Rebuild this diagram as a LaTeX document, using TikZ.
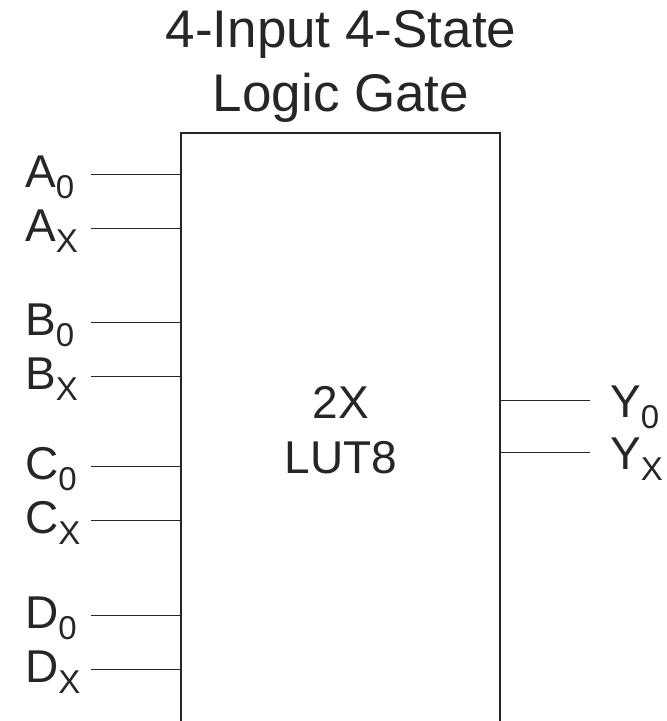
\documentclass[tikz,border=0pt]{standalone}
\usepackage{fontspec}
\setmainfont{Liberation Sans}
\usepackage{tikz}

% pin label with a lowered index, e.g. A_0
\newcommand{\pinname}[2]{#1\raisebox{-11pt}{\fontsize{33}{33}\selectfont #2}}

\tikzset{
  gate/.style={line width=2pt,black!85},
  lead/.style={line width=1pt,black!85},
  pinlabel/.style={inner sep=0pt,anchor=base west,font=\fontsize{46}{55}\selectfont,text=black!85},
}

\begin{document}
\begin{tikzpicture}[x=1pt,y=-1pt]
  \useasboundingbox (0,0) rectangle (667,721);

  % --- Title ---
  \node[inner sep=0pt,anchor=north,align=center,text=black!85,
        font=\fontsize{53}{64}\selectfont] (title) at (341,10)
    {4-Input 4-State\\Logic Gate};

  % --- Gate body (open at the bottom) ---
  \draw[gate] (181,721) -- (181,133) -- (500,133) -- (500,721);
  \node[inner sep=0pt,anchor=base,font=\fontsize{46}{55}\selectfont,text=black!85]
    (lutline1) at (341,418) {2X};
  \node[inner sep=0pt,anchor=base,font=\fontsize{46}{55}\selectfont,text=black!85]
    (lutline2) at (341,473) {LUT8};

  % --- Inputs ---
  \foreach \p/\s/\y in {A/0/174, A/X/228, B/0/322, B/X/376,
                        C/0/466, C/X/520, D/0/615, D/X/669} {
    \node[pinlabel] (in\p\s) at (25,\y+13) {\pinname{\p}{\s}};
    \coordinate (end\p\s) at (91,\y);
    \coordinate (pin\p\s) at (181,\y);
    \draw[lead] (end\p\s) -- (pin\p\s);
  }

  % --- Outputs ---
  \foreach \s/\y in {0/400, X/452} {
    \node[pinlabel] (outY\s) at (610,\y+17) {\pinname{Y}{\s}};
    \coordinate (pinY\s) at (500,\y);
    \coordinate (endY\s) at (590,\y);
    \draw[lead] (pinY\s) -- (endY\s);
  }
\end{tikzpicture}
\end{document}
